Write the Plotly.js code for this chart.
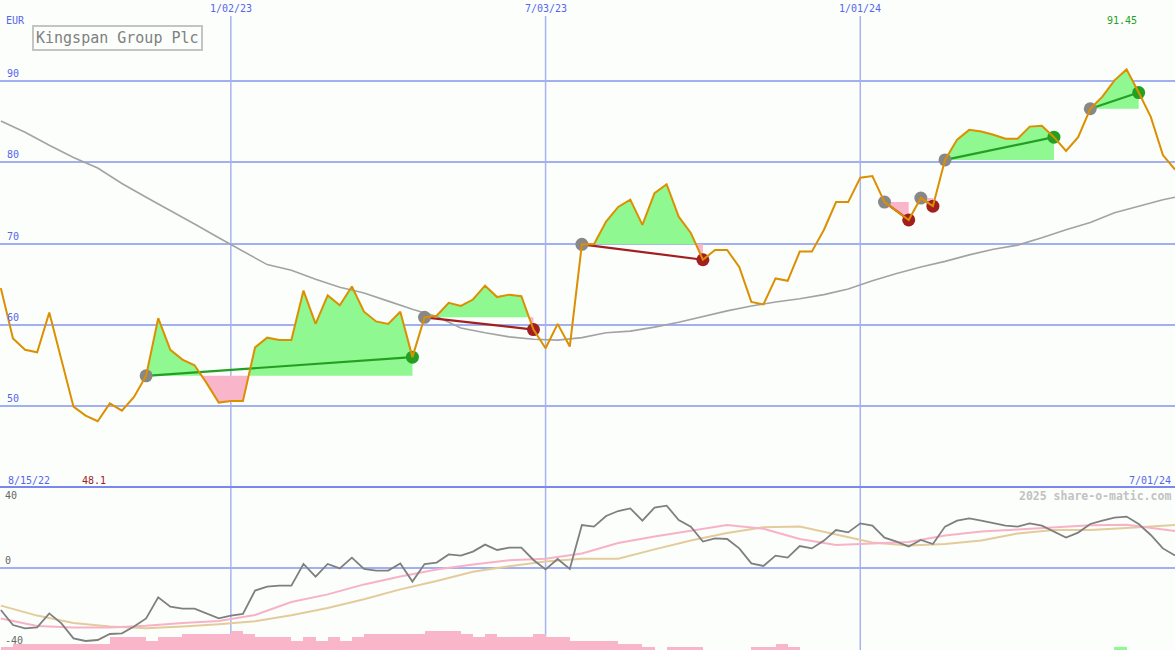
<!DOCTYPE html>
<html><head><meta charset="utf-8">
<script src="https://cdn.plot.ly/plotly-3.0.1.min.js"></script>
<style>html,body{margin:0;padding:0;background:#fbfefb;}#chart{width:1175px;height:650px;}</style>
</head><body><div id="chart"></div>
<script>
// ---------- DATA ----------
const startDate = '2022-08-22';           // first weekly close shown
const xRange = ['2022-08-21 12:00', '2024-07-01 00:00'];
const title = 'Kingspan Group Plc';
const currency = 'EUR';
const firstLabel = '8/15/22';
const lastLabel = '7/01/24';
const gridDates = ['2023-01-02', '2023-07-03', '2024-01-01'];
const gridLabels = ['1/02/23', '7/03/23', '1/01/24'];
const priceTicks = [50, 60, 70, 80, 90];
const oscTicks = [40, 0, -40];

// weekly closing price (EUR)
const price = [64.5,58.3,56.9,56.6,61.5,55.8,49.9,48.8,48.1,50.3,
  49.4,51.1,53.7,60.8,56.9,55.7,55.0,52.8,50.4,50.6,
  50.6,57.2,58.4,58.1,58.1,64.2,60.1,63.6,62.4,64.7,
  61.6,60.4,60.1,61.6,56.0,60.9,61.1,62.7,62.3,63.1,
  64.8,63.4,63.7,63.5,59.4,57.1,60.1,57.3,69.9,69.9,
  72.7,74.5,75.4,72.3,76.2,77.3,73.3,71.3,68.0,69.2,
  69.2,67.1,62.8,62.5,65.7,65.4,69.0,69.0,71.7,75.1,
  75.1,78.1,78.3,75.1,74.0,72.9,75.6,74.6,80.3,82.8,
  84.0,83.8,83.4,82.9,82.9,84.4,84.5,83.1,81.4,83.1,
  86.6,88.1,90.1,91.45,88.6,85.6,80.9,79.1];

// long moving average (week index -> value)
const maIdx = [0,2,4,6,8,10,12,14,16,18,20,22,24,26,28,30,32,34,36,38,40,42,44,46,48,
  50,52,54,56,58,60,62,64,66,68,70,72,74,76,78,80,82,84,86,88,90,92,94,96,97];
const maVal = [85.1,83.7,82.1,80.6,79.3,77.4,75.7,74.1,72.4,70.7,69.1,67.4,66.7,65.6,64.6,
  63.9,62.9,61.9,61.0,59.6,59.0,58.5,58.2,58.1,58.4,59.0,59.2,59.7,60.3,61.0,61.7,62.3,
  62.8,63.2,63.7,64.4,65.4,66.3,67.1,67.8,68.6,69.3,69.8,70.7,71.7,72.6,73.8,74.6,75.4,75.7];

// trades: start / end week index
const tradeStart = [12, 35, 48, 73, 76, 78, 90];
const tradeEnd   = [34, 44, 58, 75, 77, 87, 94];

// lower panel oscillator (weekly)
const osc = [-21,-28.5,-30.2,-29.7,-22.7,-27.7,-35.2,-36.5,-36,-33,
  -32.7,-29.3,-25.2,-14.7,-19.3,-20.3,-20.3,-22.7,-25.2,-23.8,
  -23,-11.3,-9.3,-8.8,-8.8,2,-4.3,2,-0.2,5.2,
  -0.5,-1.3,-1.3,2.3,-6.8,2,2.7,6.8,6.2,8.2,
  11.7,9,10.2,10.2,4,-0.7,4.5,-0.5,21.5,20.7,
  26,28.5,29.8,23.7,30.2,31.2,24,20.7,13.2,14.8,
  14.5,9.8,2.3,1,6.2,5.2,11,9.8,13.7,19,
  17.8,22.3,21.2,15.2,13.2,10.7,14,12,20.7,23.7,
  24.8,23.7,22.3,21.2,20.7,22.3,21.2,18.2,15.2,17.7,
  22,23.7,25.2,25.7,22,16.5,9.8,6.2];

// signal lines (week index -> value)
const sigIdx = [0,3,6,9,12,15,18,21,24,27,30,33,36,39,42,45,48,51,54,57,60,63,66,69,72,75,78,81,84,87,90,93,96,97];
const sigPink = [-25.2,-29,-29.8,-29.7,-28.9,-27.5,-26.5,-23.5,-17,-13.2,-8.2,-4.3,-0.8,1.8,3.9,4.6,
  7.3,12.5,15.8,18.7,21.5,19.6,14.5,11.5,12.1,13,16.2,18.2,19.3,20.2,21.4,21.6,19.5,18.5];
const sigTan = [-18.8,-23.8,-27.5,-29.2,-30.1,-29.3,-28.1,-26.6,-23.6,-20,-15.6,-10.7,-6.5,-1.9,0.9,3.3,
  4.6,4.6,9.3,13.7,17.5,20.4,20.7,16.8,12.8,11.3,12,13.8,17.3,19,19,20,21.3,21.5];

// bottom histogram levels per week (pink = negative, green = positive)
const barsNeg = [1,2,2,2,2,2,2,2,2,4,4,4,3,4,4,5,5,5,5,6,
  5,4,4,4,3,4,3,4,3,4,5,5,5,5,5,6,6,6,5,4,
  5,4,4,4,5,4,4,3,3,3,3,2,2,1,0,1,1,1,0,0,
  0,0,1,1,2,1,0,0,0,0,0,0,0,0,0,0,0,0,0,0,
  0,0,0,0,0,0,0,0,0,0,0,0,0,0,0,0,0];
const barsPos = barsNeg.map((_, i) => i === 92 ? 1 : 0);

// ---------- BUILD ----------
const DAY = 86400000;
const t0 = Date.parse(startDate);
const tOf = i => t0 + i * 7 * DAY;
const fmt = ms => new Date(ms).toISOString().slice(0, 19).replace('T', ' ');
const dates = price.map((_, i) => fmt(tOf(i)));

const FONT = 'DejaVu Sans Mono';
const BLUE = '#5566ee';
const BG = '#fbfefb';
const GREEN_FILL = '#90f890', PINK_FILL = '#f9b6ca';
const WIN = '#23a023', LOSS = '#a31f1f';

const traces = [];

// trade fills
tradeStart.forEach((s, k) => {
  const e = tradeEnd[k];
  const base = price[s];
  const pts = [];
  for (let i = s; i <= e; i++) {
    if (i > s) {
      const a = price[i - 1] - base, b = price[i] - base;
      if (a * b < 0) { const f = a / (a - b); pts.push([tOf(i - 1) + f * 7 * DAY, base]); }
    }
    pts.push([tOf(i), price[i]]);
  }
  const up = {x: [], y: []}, dn = {x: [], y: []};
  pts.forEach(([t, v]) => {
    up.x.push(fmt(t)); up.y.push(Math.max(v, base));
    dn.x.push(fmt(t)); dn.y.push(Math.min(v, base));
  });
  [up, dn].forEach(p => { p.x.push(fmt(tOf(e)), fmt(tOf(s))); p.y.push(base, base); });
  traces.push({x: up.x, y: up.y, mode: 'lines', fill: 'toself', fillcolor: GREEN_FILL,
    line: {width: 0}, hoverinfo: 'skip', xaxis: 'x', yaxis: 'y'});
  traces.push({x: dn.x, y: dn.y, mode: 'lines', fill: 'toself', fillcolor: PINK_FILL,
    line: {width: 0}, hoverinfo: 'skip', xaxis: 'x', yaxis: 'y'});
});

// moving average
traces.push({x: maIdx.map(i => dates[i]), y: maVal, mode: 'lines',
  line: {color: '#a3a3a3', width: 1.6}, xaxis: 'x', yaxis: 'y'});

// trade lines
tradeStart.forEach((s, k) => {
  const e = tradeEnd[k];
  const win = price[e] > price[s];
  traces.push({x: [dates[s], dates[e]], y: [price[s], price[e]], mode: 'lines',
    line: {color: win ? WIN : LOSS, width: 2.2}, xaxis: 'x', yaxis: 'y'});
});
// markers
traces.push({x: tradeStart.map(i => dates[i]), y: tradeStart.map(i => price[i]), mode: 'markers',
  marker: {color: '#888888', size: 13}, xaxis: 'x', yaxis: 'y'});
traces.push({x: tradeEnd.map(i => dates[i]), y: tradeEnd.map(i => price[i]), mode: 'markers',
  marker: {color: tradeEnd.map((e, k) => price[e] > price[tradeStart[k]] ? WIN : LOSS), size: 13},
  xaxis: 'x', yaxis: 'y'});
// price
traces.push({x: dates, y: price, mode: 'lines', line: {color: '#dc8f00', width: 2},
  xaxis: 'x', yaxis: 'y'});

// lower panel
traces.push({type: 'bar', x: dates, y: barsNeg, width: 7 * DAY, offset: 0,
  marker: {color: PINK_FILL, line: {width: 0}}, xaxis: 'x2', yaxis: 'y3'});
traces.push({type: 'bar', x: dates, y: barsPos, width: 7 * DAY, offset: 0,
  marker: {color: GREEN_FILL, line: {width: 0}}, xaxis: 'x2', yaxis: 'y3'});
traces.push({x: sigIdx.map(i => dates[i]), y: sigTan, mode: 'lines',
  line: {color: '#e3cb9c', width: 2}, xaxis: 'x2', yaxis: 'y2'});
traces.push({x: sigIdx.map(i => dates[i]), y: sigPink, mode: 'lines',
  line: {color: '#f8b2c8', width: 2}, xaxis: 'x2', yaxis: 'y2'});
traces.push({x: dates, y: osc, mode: 'lines', line: {color: '#7f7f7f', width: 1.8},
  xaxis: 'x2', yaxis: 'y2'});

// ---------- LAYOUT ----------
const H = 650;
const split = 163 / H;
const shapes = gridDates.map(d => ({type: 'line', xref: 'x', yref: 'paper', x0: d, x1: d,
  y0: 0, y1: 1 - 16 / H, line: {color: '#a8b4f0', width: 1.5}, layer: 'below'}));
shapes.push({type: 'line', xref: 'paper', yref: 'paper', x0: 0, x1: 1, y0: split, y1: split,
  line: {color: '#7b87ee', width: 2}, layer: 'above'});

const ann = [];
const txt = (o) => Object.assign({showarrow: false, font: {family: FONT, size: 10, color: BLUE}}, o);
gridDates.forEach((d, i) => ann.push(txt({x: d, xref: 'x', y: 1 - 8 / H, yref: 'paper',
  yanchor: 'middle', xanchor: 'center', text: gridLabels[i]})));
priceTicks.forEach(v => ann.push(txt({x: 0, xref: 'paper', xanchor: 'left', xshift: 5,
  y: v, yref: 'y', yanchor: 'bottom', text: String(v)})));
oscTicks.forEach(v => ann.push(txt({x: 0, xref: 'paper', xanchor: 'left', xshift: 3,
  y: v, yref: 'y2', yanchor: v > 0 ? 'top' : 'bottom', text: String(v),
  font: {family: FONT, size: 10, color: '#666666'}})));
ann.push(txt({x: 0, xref: 'paper', xanchor: 'left', xshift: 4, y: 1 - 20 / H, yref: 'paper',
  yanchor: 'middle', text: currency}));
ann.push(txt({x: 0, xref: 'paper', xanchor: 'left', xshift: 6, y: 1 - 480 / H, yref: 'paper',
  yanchor: 'middle', text: firstLabel}));
ann.push(txt({x: 1, xref: 'paper', xanchor: 'right', xshift: -2, y: 1 - 480 / H, yref: 'paper',
  yanchor: 'middle', text: lastLabel}));
const iMin = price.indexOf(Math.min(...price));
const iMax = price.indexOf(Math.max(...price));
ann.push(txt({x: dates[iMin], xref: 'x', xanchor: 'center', xshift: -4, y: 1 - 480 / H, yref: 'paper',
  yanchor: 'middle', text: String(price[iMin]), font: {family: FONT, size: 10, color: '#a01e1e'}}));
ann.push(txt({x: dates[iMax], xref: 'x', xanchor: 'center', xshift: -5, y: 1 - 20 / H, yref: 'paper',
  yanchor: 'middle', text: String(price[iMax]), font: {family: FONT, size: 10, color: '#23a023'}}));
ann.push(txt({x: 1, xref: 'paper', xanchor: 'right', xshift: -2, y: 1 - 496 / H, yref: 'paper',
  yanchor: 'middle', text: '<b>2025 share-o-matic.com</b>',
  font: {family: FONT, size: 11.5, color: '#c2c2c2'}}));
ann.push({x: 32 / 1175, xref: 'paper', xanchor: 'left', y: 1 - 25 / H, yref: 'paper', yanchor: 'top',
  text: title, showarrow: false, bordercolor: '#c4c4c4', borderwidth: 2, borderpad: 2,
  bgcolor: BG, font: {family: FONT, size: 15, color: '#808080'}});

const layout = {
  width: 1175, height: H, margin: {l: 0, r: 0, t: 0, b: 0},
  paper_bgcolor: BG, plot_bgcolor: BG, showlegend: false,
  barmode: 'overlay', bargap: 0,
  xaxis: {type: 'date', range: xRange, domain: [0, 1], anchor: 'y', visible: false, fixedrange: true},
  xaxis2: {type: 'date', range: xRange, domain: [0, 1], anchor: 'y2', matches: 'x', visible: false},
  yaxis: {domain: [split, 1], range: [40, 100], tickvals: priceTicks, showticklabels: false,
    showgrid: true, gridcolor: '#a3b0f0', gridwidth: 2, zeroline: false, showline: false, ticks: ''},
  yaxis2: {domain: [0, split], range: [-41, 40.5], tickvals: [0], showticklabels: false,
    showgrid: true, gridcolor: '#a3b0f0', gridwidth: 2, zeroline: false, showline: false, ticks: ''},
  yaxis3: {overlaying: 'y2', range: [0, 51.7], visible: false},
  shapes: shapes, annotations: ann
};
Plotly.newPlot('chart', traces, layout, {staticPlot: true, displayModeBar: false});
</script></body></html>
